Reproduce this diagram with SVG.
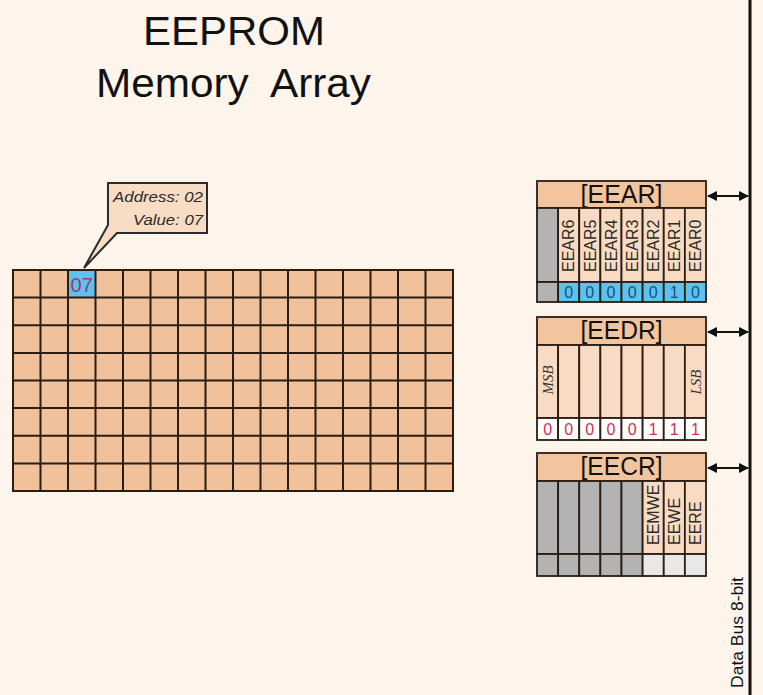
<svg xmlns="http://www.w3.org/2000/svg" width="763" height="695" viewBox="0 0 763 695">
<defs>
<style>
.bg{fill:#fdf5ec}
.cell{fill:#f1c19b}
.grid{fill:none;stroke:#2b1d12;stroke-width:2}
.hdr{fill:#f3c59f;stroke:#2b1d12;stroke-width:1.8}
.col{fill:#f8dbc2;stroke:#2b1d12;stroke-width:1.8}
.gray{fill:#b3b3b3;stroke:#2b1d12;stroke-width:1.8}
.blue{fill:#5ec2ee;stroke:#2b1d12;stroke-width:1.8}
.white{fill:#ffffff;stroke:#2b1d12;stroke-width:1.8}
.lgray{fill:#e8e8e8;stroke:#2b1d12;stroke-width:1.8}
.t{font-family:"Liberation Sans",Arial,sans-serif;fill:#111}
.title{font-size:40px}
.htxt{font-size:25px;text-anchor:middle}
.bit{font-size:16px;fill:#2b2b2b}
.vb{font-size:16px;text-anchor:middle;fill:#1a4f7a}
.vr{font-size:16px;text-anchor:middle;fill:#d0304a}
.cv{font-size:20px;text-anchor:middle;fill:#9a3a72}
.ct{font-size:15.5px;font-style:italic;fill:#2b2b2b}
.ser{font-family:"Liberation Serif","Times New Roman",serif;font-style:italic;font-size:15px;fill:#333;text-anchor:middle}
.conn{stroke:#111;stroke-width:1.8;fill:none}
</style>
<marker id="ah" viewBox="0 0 10 10" refX="9" refY="5" markerWidth="11" markerHeight="10" markerUnits="userSpaceOnUse" orient="auto-start-reverse">
<path d="M0,0 L10,5 L0,10 z" fill="#111"/>
</marker>
</defs>
<rect class="bg" x="0" y="0" width="763" height="695"/>

<g id="title">
<text class="t title" x="143" y="45" textLength="182" lengthAdjust="spacingAndGlyphs">EEPROM</text>
<text class="t title" x="96" y="97" textLength="275" lengthAdjust="spacingAndGlyphs" xml:space="preserve">Memory  Array</text>
</g>

<g id="memory-array">
<rect class="cell" x="13" y="270" width="440" height="221"/>
<rect x="68" y="270" width="27.5" height="27.6" fill="#5ec2ee"/>
<path class="grid" d="M13,270 H453 V491 H13 Z
M40.5,270 V491 M68,270 V491 M95.5,270 V491 M123,270 V491 M150.5,270 V491 M178,270 V491 M205.5,270 V491 M233,270 V491 M260.5,270 V491 M288,270 V491 M315.5,270 V491 M343,270 V491 M370.5,270 V491 M398,270 V491 M425.5,270 V491
M13,297.6 H453 M13,325.2 H453 M13,352.9 H453 M13,380.5 H453 M13,408.1 H453 M13,435.8 H453 M13,463.4 H453"/>
<text class="t cv" x="81.7" y="292">07</text>
</g>

<g id="callout">
<path d="M108,183 H207 V233 H117 L84,268 L108,225 Z" fill="#f8dcc4" stroke="#2b2b2b" stroke-width="2" stroke-linejoin="miter"/>
<text class="t ct" x="113" y="202" textLength="90" lengthAdjust="spacingAndGlyphs">Address: 02</text>
<text class="t ct" x="133" y="225" textLength="70" lengthAdjust="spacingAndGlyphs">Value: 07</text>
</g>

<g id="EEAR">
<rect class="hdr" x="537" y="181" width="169" height="27"/>
<text class="t htxt" x="621.5" y="203" textLength="82" lengthAdjust="spacingAndGlyphs">[EEAR]</text>
<rect class="gray" x="537" y="208" width="21.125" height="74"/>
<rect class="col" x="558.125" y="208" width="21.125" height="74"/>
<rect class="col" x="579.25" y="208" width="21.125" height="74"/>
<rect class="col" x="600.375" y="208" width="21.125" height="74"/>
<rect class="col" x="621.5" y="208" width="21.125" height="74"/>
<rect class="col" x="642.625" y="208" width="21.125" height="74"/>
<rect class="col" x="663.75" y="208" width="21.125" height="74"/>
<rect class="col" x="684.875" y="208" width="21.125" height="74"/>
<rect class="gray" x="537" y="282" width="21.125" height="20"/>
<rect class="blue" x="558.125" y="282" width="21.125" height="20"/>
<rect class="blue" x="579.25" y="282" width="21.125" height="20"/>
<rect class="blue" x="600.375" y="282" width="21.125" height="20"/>
<rect class="blue" x="621.5" y="282" width="21.125" height="20"/>
<rect class="blue" x="642.625" y="282" width="21.125" height="20"/>
<rect class="blue" x="663.75" y="282" width="21.125" height="20"/>
<rect class="blue" x="684.875" y="282" width="21.125" height="20"/>
<text class="t bit" transform="translate(574.4,272) rotate(-90)">EEAR6</text>
<text class="t bit" transform="translate(595.5,272) rotate(-90)">EEAR5</text>
<text class="t bit" transform="translate(616.6,272) rotate(-90)">EEAR4</text>
<text class="t bit" transform="translate(637.8,272) rotate(-90)">EEAR3</text>
<text class="t bit" transform="translate(658.9,272) rotate(-90)">EEAR2</text>
<text class="t bit" transform="translate(680,272) rotate(-90)">EEAR1</text>
<text class="t bit" transform="translate(701.1,272) rotate(-90)">EEAR0</text>
<text class="t vb" x="568.7" y="298">0</text>
<text class="t vb" x="589.8" y="298">0</text>
<text class="t vb" x="610.9" y="298">0</text>
<text class="t vb" x="632.1" y="298">0</text>
<text class="t vb" x="653.2" y="298">0</text>
<text class="t vb" x="674.3" y="298">1</text>
<text class="t vb" x="695.4" y="298">0</text>
</g>

<g id="EEDR">
<rect class="hdr" x="537" y="317" width="169" height="28"/>
<text class="t htxt" x="621.5" y="339" textLength="82" lengthAdjust="spacingAndGlyphs">[EEDR]</text>
<rect class="col" x="537" y="345" width="21.125" height="73"/>
<rect class="col" x="558.125" y="345" width="21.125" height="73"/>
<rect class="col" x="579.25" y="345" width="21.125" height="73"/>
<rect class="col" x="600.375" y="345" width="21.125" height="73"/>
<rect class="col" x="621.5" y="345" width="21.125" height="73"/>
<rect class="col" x="642.625" y="345" width="21.125" height="73"/>
<rect class="col" x="663.75" y="345" width="21.125" height="73"/>
<rect class="col" x="684.875" y="345" width="21.125" height="73"/>
<rect class="white" x="537" y="418" width="21.125" height="22"/>
<rect class="white" x="558.125" y="418" width="21.125" height="22"/>
<rect class="white" x="579.25" y="418" width="21.125" height="22"/>
<rect class="white" x="600.375" y="418" width="21.125" height="22"/>
<rect class="white" x="621.5" y="418" width="21.125" height="22"/>
<rect class="white" x="642.625" y="418" width="21.125" height="22"/>
<rect class="white" x="663.75" y="418" width="21.125" height="22"/>
<rect class="white" x="684.875" y="418" width="21.125" height="22"/>
<text class="ser" transform="translate(552.5,380) rotate(-90)">MSB</text>
<text class="ser" transform="translate(700.5,382) rotate(-90)">LSB</text>
<text class="t vr" x="547.6" y="435">0</text>
<text class="t vr" x="568.7" y="435">0</text>
<text class="t vr" x="589.8" y="435">0</text>
<text class="t vr" x="610.9" y="435">0</text>
<text class="t vr" x="632.1" y="435">0</text>
<text class="t vr" x="653.2" y="435">1</text>
<text class="t vr" x="674.3" y="435">1</text>
<text class="t vr" x="695.4" y="435">1</text>
</g>

<g id="EECR">
<rect class="hdr" x="537" y="453" width="169" height="28"/>
<text class="t htxt" x="621.5" y="475" textLength="82" lengthAdjust="spacingAndGlyphs">[EECR]</text>
<rect class="gray" x="537" y="481" width="21.125" height="73"/>
<rect class="gray" x="558.125" y="481" width="21.125" height="73"/>
<rect class="gray" x="579.25" y="481" width="21.125" height="73"/>
<rect class="gray" x="600.375" y="481" width="21.125" height="73"/>
<rect class="gray" x="621.5" y="481" width="21.125" height="73"/>
<rect class="col" x="642.625" y="481" width="21.125" height="73"/>
<rect class="col" x="663.75" y="481" width="21.125" height="73"/>
<rect class="col" x="684.875" y="481" width="21.125" height="73"/>
<rect class="gray" x="537" y="554" width="21.125" height="22"/>
<rect class="gray" x="558.125" y="554" width="21.125" height="22"/>
<rect class="gray" x="579.25" y="554" width="21.125" height="22"/>
<rect class="gray" x="600.375" y="554" width="21.125" height="22"/>
<rect class="gray" x="621.5" y="554" width="21.125" height="22"/>
<rect class="lgray" x="642.625" y="554" width="21.125" height="22"/>
<rect class="lgray" x="663.75" y="554" width="21.125" height="22"/>
<rect class="lgray" x="684.875" y="554" width="21.125" height="22"/>
<text class="t bit" transform="translate(658.9,545) rotate(-90)">EEMWE</text>
<text class="t bit" transform="translate(680,545) rotate(-90)">EEWE</text>
<text class="t bit" transform="translate(701.1,545) rotate(-90)">EERE</text>
</g>

<g id="data-bus">
<line x1="750" y1="0" x2="750" y2="695" stroke="#111" stroke-width="3"/>
<text class="t" transform="translate(743,688) rotate(-90)" font-size="17" textLength="111" lengthAdjust="spacingAndGlyphs">Data Bus 8-bit</text>
</g>

<g id="connectors">
<line class="conn" x1="708" y1="196" x2="748" y2="196" marker-start="url(#ah)" marker-end="url(#ah)"/>
<line class="conn" x1="708" y1="332" x2="748" y2="332" marker-start="url(#ah)" marker-end="url(#ah)"/>
<line class="conn" x1="708" y1="468" x2="748" y2="468" marker-start="url(#ah)" marker-end="url(#ah)"/>
</g>
</svg>
